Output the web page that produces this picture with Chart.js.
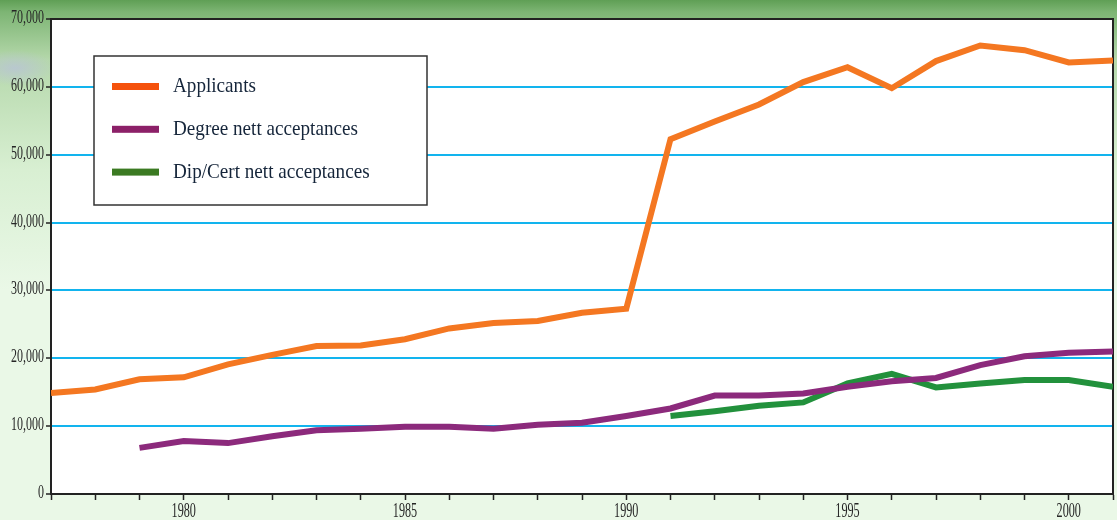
<!DOCTYPE html>
<html>
<head>
<meta charset="utf-8">
<script src="https://cdn.jsdelivr.net/npm/chart.js@4.4.1/dist/chart.umd.min.js"></script>
<style>
  html, body { margin: 0; padding: 0; }
  body {
    width: 1117px; height: 520px; overflow: hidden;
    background:
      radial-gradient(ellipse 40px 18px at 15px 68px, rgba(185,195,215,0.8), rgba(185,195,215,0) 100%),
      linear-gradient(to bottom, #5f9f55 0px, #7db574 12px, #b5d8ab 60px, #d8efd2 170px, #eaf8e7 290px, #eaf8e7 520px);
  }
  #wrap { position: absolute; left: 0; top: 0; width: 1117px; height: 520px; }
</style>
</head>
<body>
<div id="wrap"><canvas id="c" width="1117" height="520"></canvas></div>
<script>
const years = [1977,1978,1979,1980,1981,1982,1983,1984,1985,1986,1987,1988,1989,1990,1991,1992,1993,1994,1995,1996,1997,1998,1999,2000,2001];
const applicants = [14900,15400,16900,17200,19100,20500,21800,21900,22800,24400,25200,25500,26700,27300,52300,54900,57400,60700,62900,59800,63800,66100,65400,63600,63900];
const degreeAcceptances = [null,null,6800,7800,7500,8500,9400,9600,9900,9900,9600,10200,10500,11500,12600,14500,14500,14800,15800,16600,17100,19000,20300,20800,21000];
const dipCertAcceptances = [null,null,null,null,null,null,null,null,null,null,null,null,null,null,11500,12200,13000,13500,16300,17700,15700,16300,16800,16800,15800];
const seriesNames = ['Applicants','Degree nett acceptances','Dip/Cert nett acceptances'];
const seriesColors = ['#F47721','#8C2A7C','#22913C'];
const legendColors = ['#F5520C','#8C2068','#3B7A22'];
const yTicks = [0,10000,20000,30000,40000,50000,60000,70000];
const xLabelYears = [1980,1985,1990,1995,2000];

const toPts = arr => years.map((y,i)=>({x:y, y:arr[i]}));

function condensedText(ctx, text, x, y, align, font, sx) {
  ctx.save();
  ctx.font = font;
  ctx.textBaseline = 'middle';
  const w = ctx.measureText(text).width * sx;
  let left = x;
  if (align === 'right') left = x - w;
  else if (align === 'center') left = x - w / 2;
  ctx.translate(left, y);
  ctx.scale(sx, 1);
  ctx.textAlign = 'left';
  ctx.fillText(text, 0, 0);
  ctx.restore();
}

const areaPlugin = {
  id: 'area',
  beforeDraw(chart) {
    const {ctx, chartArea:a} = chart;
    ctx.save();
    ctx.fillStyle = '#ffffff';
    ctx.fillRect(a.left, a.top, a.right - a.left, a.bottom - a.top);
    ctx.restore();
  },
  beforeDatasetsDraw(chart) {
    const {ctx, chartArea:a} = chart;
    ctx.save();
    ctx.strokeStyle = '#222222';
    ctx.lineWidth = 2;
    ctx.beginPath();
    ctx.moveTo(a.left, a.top);
    ctx.lineTo(a.right, a.top);
    ctx.lineTo(a.right, a.bottom);
    ctx.stroke();
    ctx.restore();
  },
  afterDatasetsDraw(chart) {
    const {ctx} = chart;
    const bx = 94, by = 56, bw = 333, bh = 149;
    ctx.save();
    ctx.fillStyle = '#ffffff';
    ctx.fillRect(bx, by, bw, bh);
    ctx.strokeStyle = '#333333';
    ctx.lineWidth = 1.5;
    ctx.strokeRect(bx, by, bw, bh);
    chart.data.datasets.forEach((ds, i) => {
      const yy = 86.5 + i * 42.8;
      ctx.fillStyle = legendColors[i];
      ctx.fillRect(112, yy - 3.5, 47, 7);
      ctx.fillStyle = '#15253a';
      condensedText(ctx, ds.label, 173, yy, 'left', '22px "Liberation Serif", serif', 0.87);
    });
    ctx.restore();
  },
  afterDraw(chart) {
    const {ctx} = chart;
    const xs = chart.scales.x, ys = chart.scales.y;
    ctx.save();
    ctx.fillStyle = '#262626';
    yTicks.forEach(v => {
      condensedText(ctx, v.toLocaleString('en-US'), 44, ys.getPixelForValue(v) - 1, 'right', '19px "Liberation Serif", serif', 0.63);
    });
    xLabelYears.forEach(v => {
      condensedText(ctx, String(v), xs.getPixelForValue(v), 511, 'center', '21px "Liberation Serif", serif', 0.58);
    });
    ctx.restore();
  }
};

new Chart(document.getElementById('c'), {
  type: 'line',
  data: {
    datasets: [
      {label: seriesNames[0], data: toPts(applicants), borderColor: seriesColors[0]},
      {label: seriesNames[1], data: toPts(degreeAcceptances), borderColor: seriesColors[1]},
      {label: seriesNames[2], data: toPts(dipCertAcceptances), borderColor: seriesColors[2]}
    ].map(d => Object.assign(d, {borderWidth: 6, pointRadius: 0, tension: 0, fill: false, spanGaps: false, borderJoinStyle: 'miter', borderCapStyle: 'butt'}))
  },
  options: {
    responsive: false,
    animation: false,
    layout: {padding: {left: 0, top: 19, right: 4, bottom: 0}},
    plugins: {legend: {display: false}, tooltip: {enabled: false}},
    scales: {
      x: {
        type: 'linear', min: years[0], max: years[years.length-1],
        afterBuildTicks: s => { s.ticks = years.map(v => ({value: v})); },
        afterFit: s => { s.height = 26; },
        grid: {drawOnChartArea: false, drawTicks: true, tickLength: 6, tickColor: '#222', tickWidth: 1.5},
        border: {display: true, color: '#222', width: 2},
        ticks: {display: false, autoSkip: false}
      },
      y: {
        min: 0, max: 70000,
        afterBuildTicks: s => { s.ticks = yTicks.map(v => ({value: v})); },
        afterFit: s => { s.width = 51; },
        grid: {color: '#12B4EE', lineWidth: 2, drawTicks: true, tickLength: 5, tickColor: '#222', tickWidth: 1.5},
        border: {display: true, color: '#222', width: 2},
        ticks: {display: false}
      }
    }
  },
  plugins: [areaPlugin]
});
</script>
</body>
</html>
